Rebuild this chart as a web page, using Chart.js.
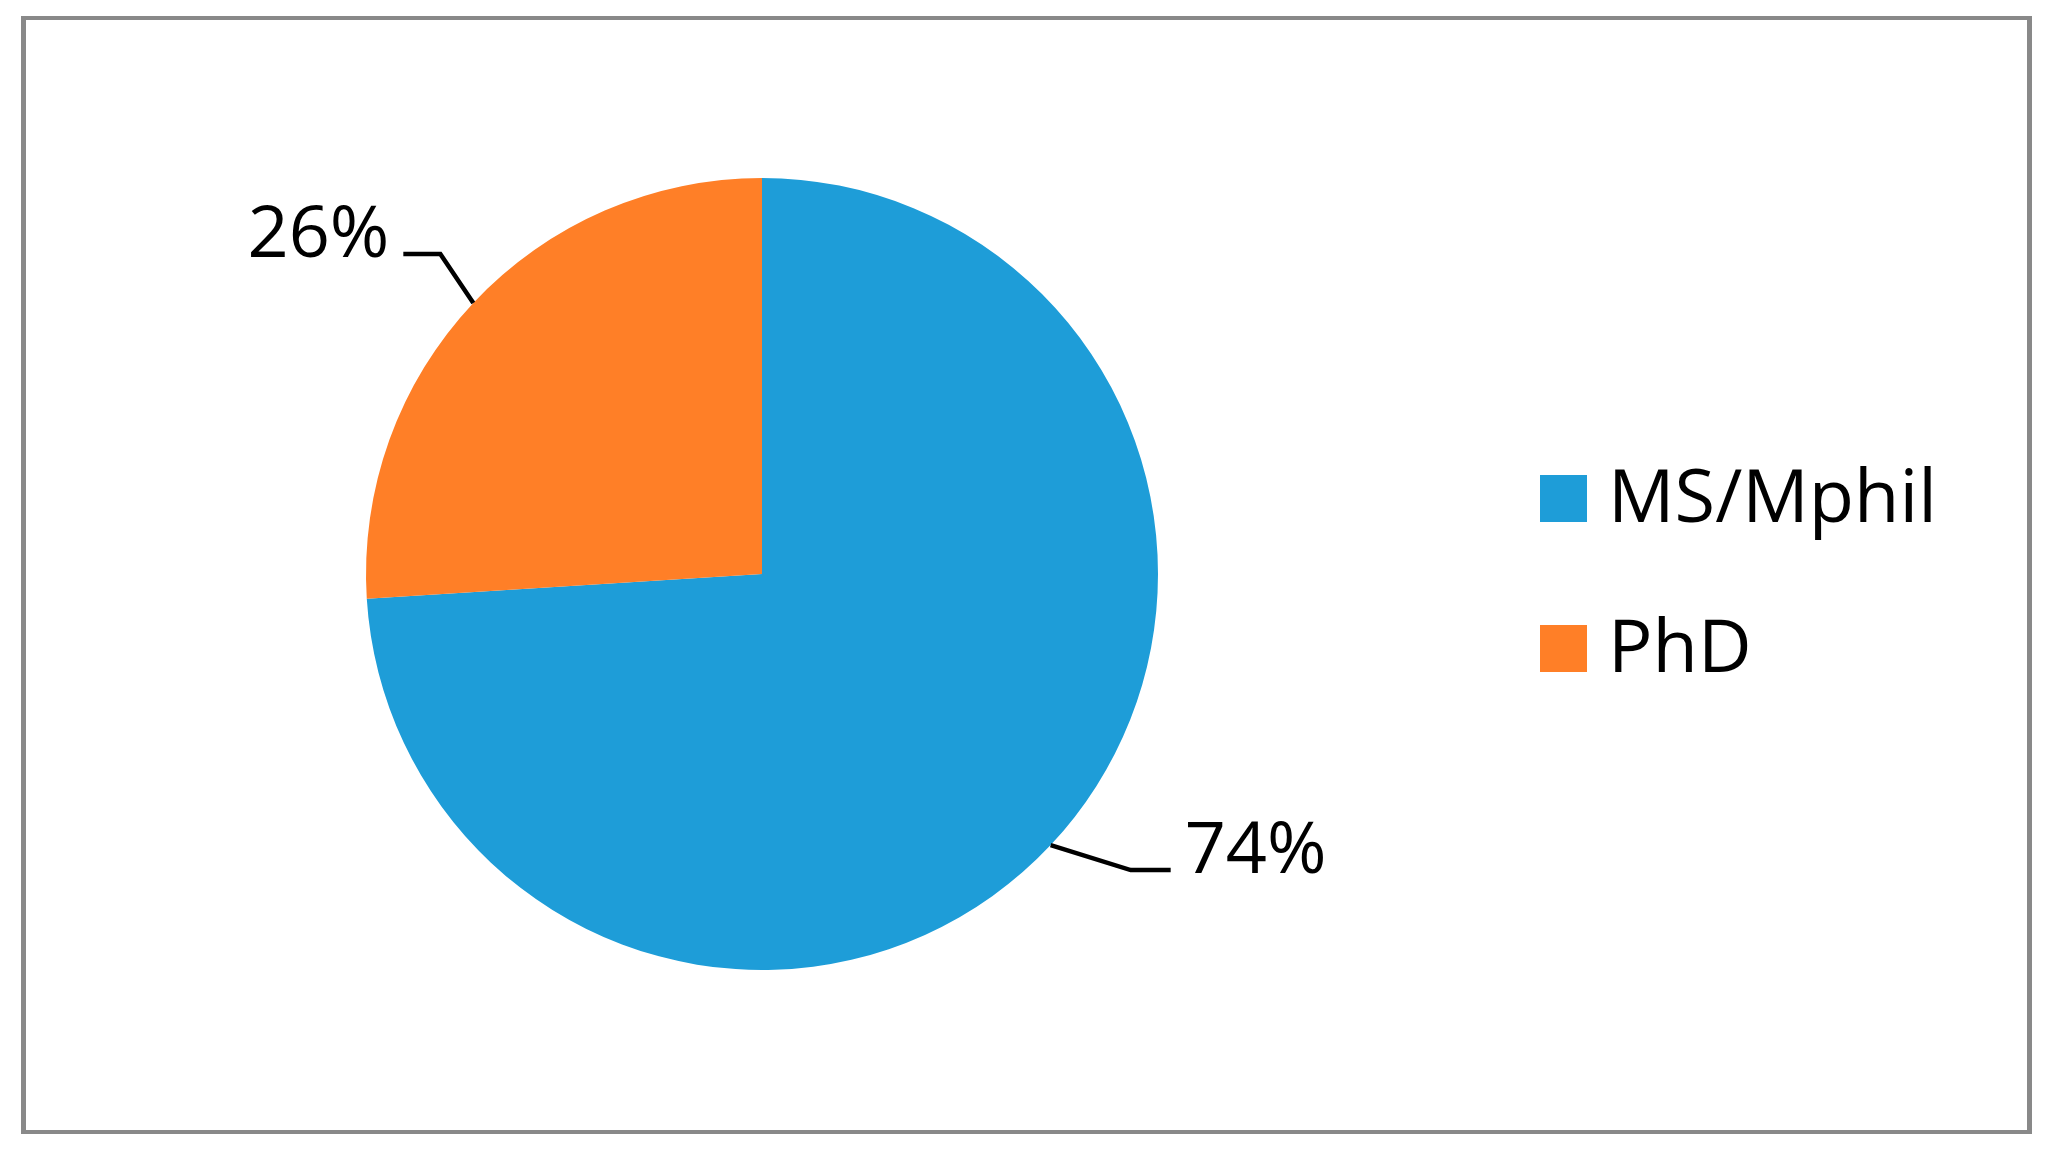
<!DOCTYPE html>
<html>
<head>
<meta charset="utf-8">
<script src="https://cdn.jsdelivr.net/npm/chart.js@4.4.1/dist/chart.umd.min.js"></script>
<style>
  html, body { margin: 0; padding: 0; background: #fff; }
  #frame {
    position: absolute; left: 21px; top: 16px;
    width: 2011px; height: 1118px;
    box-sizing: border-box;
    border: 5px solid #898989;
    border-top-width: 4px; border-bottom-width: 4px;
  }
  #degreeChart { display: block; }
</style>
</head>
<body>
<div id="frame"><canvas id="degreeChart" width="2001" height="1110"></canvas></div>
<script>
const categories = ['MS/Mphil', 'PhD'];
const shares = [74, 26];
const sliceColors = ['#1e9dd8', '#ff7f27'];

// where each value label sits relative to the slice edge (elbow, then tail)
const leaderShape = [
  { elbow: [80, 25], tail: [40, 0], side: 'right' },
  { elbow: [-33, -49], tail: [-37, 0], side: 'left' }
];

const valueFont = '72px "Open Sans"';
const legendFont = '74px "Open Sans"';

const leaderLabels = {
  id: 'leaderLabels',
  afterDatasetsDraw(chart) {
    const {ctx} = chart;
    const meta = chart.getDatasetMeta(0);
    ctx.save();
    ctx.strokeStyle = '#000';
    ctx.lineWidth = 4.5;
    ctx.fillStyle = '#000';
    ctx.font = valueFont;
    ctx.textBaseline = 'alphabetic';
    meta.data.forEach((arc, i) => {
      const p = arc.getProps(['x', 'y', 'startAngle', 'endAngle', 'outerRadius'], true);
      const mid = (p.startAngle + p.endAngle) / 2;
      const x0 = p.x + Math.cos(mid) * p.outerRadius;
      const y0 = p.y + Math.sin(mid) * p.outerRadius;
      const s = leaderShape[i];
      const x1 = x0 + s.elbow[0], y1 = y0 + s.elbow[1];
      const x2 = x1 + s.tail[0], y2 = y1 + s.tail[1];
      ctx.beginPath();
      ctx.moveTo(x0, y0);
      ctx.lineTo(x1, y1);
      ctx.lineTo(x2, y2);
      ctx.stroke();
      const txt = shares[i] + '%';
      if (s.side === 'right') {
        ctx.textAlign = 'left';
        ctx.fillText(txt, x2 + 14, y2 + 3);
      } else {
        ctx.textAlign = 'right';
        ctx.fillText(txt, x2 - 14, y2 + 3);
      }
    });
    ctx.restore();
  }
};

const sideLegend = {
  id: 'sideLegend',
  afterDraw(chart) {
    const {ctx} = chart;
    const ds = chart.data.datasets[0];
    ctx.save();
    ctx.font = legendFont;
    ctx.textAlign = 'left';
    ctx.textBaseline = 'alphabetic';
    chart.data.labels.forEach((lab, i) => {
      const top = 455 + i * 150;
      ctx.fillStyle = ds.backgroundColor[i];
      ctx.fillRect(1514, top, 47, 47);
      ctx.fillStyle = '#000';
      ctx.fillText(lab, 1582, top + 47);
    });
    ctx.restore();
  }
};

const ctx = document.getElementById('degreeChart').getContext('2d');

new Chart(ctx, {
  type: 'pie',
  data: {
    labels: categories,
    datasets: [{
      data: shares,
      backgroundColor: sliceColors,
      borderWidth: 0
    }]
  },
  options: {
    responsive: false,
    animation: false,
    layout: { padding: { left: 340, right: 869, top: 158, bottom: 160 } },
    plugins: {
      legend: { display: false },
      tooltip: { enabled: false }
    }
  },
  plugins: [leaderLabels, sideLegend]
});
</script>
</body>
</html>
